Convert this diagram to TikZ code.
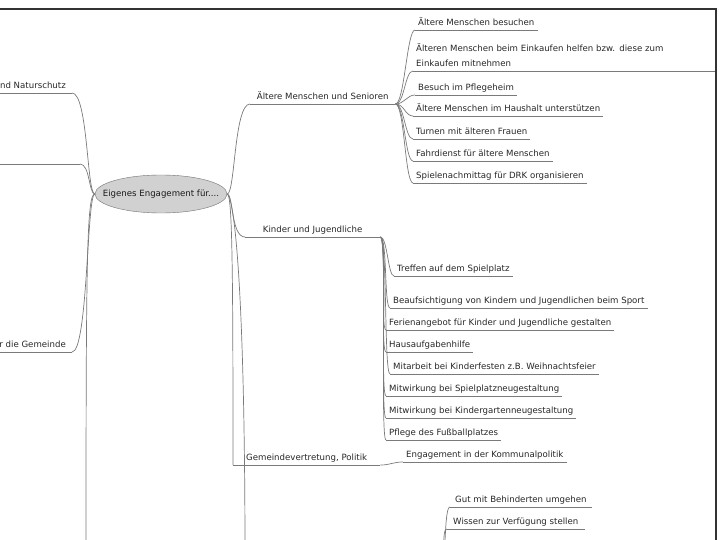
\documentclass[tikz,border=0pt]{standalone}
\usepackage{fontspec}
\setmainfont{DejaVu Sans}
\usetikzlibrary{shapes.geometric}

\newcommand{\mapfont}{\fontsize{8.6}{15}\selectfont}

\tikzset{
  link/.style={draw=black!52, line width=0.7pt},
  uline/.style={draw=black!52, line width=0.7pt},
  topic/.style={anchor=south west, inner xsep=3pt, inner ysep=2.5pt, text depth=2pt,
    text=black!85, font=\mapfont,
    append after command={(\tikzlastnode.south west) edge[uline] (\tikzlastnode.south east)}},
  ltopic/.style={topic, anchor=south east, inner xsep=6pt},
  frame/.style={draw=black!80, line width=1.2pt}
}

\begin{document}
\begin{tikzpicture}[x=1pt, y=-1pt]

    \useasboundingbox (0,0) rectangle (720,540);
    \clip (0,0) rectangle (720,540);

    % Centre
    \node[ellipse, draw=black!55, fill=black!18, minimum width=132pt, minimum height=38pt,
      inner xsep=-12pt, inner ysep=0pt, font=\mapfont, text=black!90] (core) at (161,194)
      {Eigenes Engagement für....};

    % Left side (cut off)
    \node[ltopic] (natur) at (72,93) {nd Naturschutz};
    \node[ltopic] (gemeinde) at (72,352) {r die Gemeinde};
    \coordinate (left2) at (80,164);
    \coordinate (left4) at (86,560);
    \draw[uline] (left2) -- ++(-100,0);

    \draw[link] (natur.south east) .. controls +(16,0) and +(-8,0) .. (core.west);
    \draw[link] (left2) .. controls +(10,0) and +(-6,0) .. (core.west);
    \draw[link] (gemeinde.south east) .. controls +(16,0) and +(-8,0) .. (core.west);
    \draw[link] (core.west) .. controls +(-8,0) and +(0,-300) .. (left4);

    % Main topics right
    \node[topic, minimum width=145pt] (senioren) at (250,104) {Ältere Menschen und Senioren};
    \node[topic, minimum width=135pt] (kinder) at (245,237) {Kinder und Jugendliche};
    \node[topic, minimum width=147pt] (politik) at (233,465) {Gemeindevertretung, Politik};
    \coordinate (behind) at (245,560);

    \draw[link] (core.east) .. controls +(8,0) and +(-16,0) .. (senioren.south west);
    \draw[link] (core.east) .. controls +(6,0) and +(-14,0) .. (kinder.south west);
    \draw[link] (core.east) .. controls +(5,0) and +(0,-200) .. (politik.south west);
    \draw[link] (core.east) .. controls +(5,0) and +(0,-300) .. (behind);

    % Aeltere Menschen
    \node[topic] (sen1) at (415,30) {Ältere Menschen besuchen};
    \node[topic, text width=297pt, align=left, text depth=17pt] (sen2) at (413,71)
      {Älteren Menschen beim Einkaufen helfen bzw. diese zum\\Einkaufen mitnehmen};
    \node[topic] (sen3) at (415,95) {Besuch im Pflegeheim};
    \node[topic] (sen4) at (413,116) {Ältere Menschen im Haushalt unterstützen};
    \node[topic] (sen5) at (413,139) {Turnen mit älteren Frauen};
    \node[topic] (sen6) at (413,161) {Fahrdienst für ältere Menschen};
    \node[topic] (sen7) at (413,183) {Spielenachmittag für DRK organisieren};

    \foreach \i in {1,...,7}
      \draw[link] (senioren.south east) .. controls +(9,0) and +(-8,0) .. (sen\i.south west);

    % Kinder und Jugendliche
    \node[topic] (kid1) at (394,276) {Treffen auf dem Spielplatz};
    \node[topic] (kid2) at (390,308) {Beaufsichtigung von Kindern und Jugendlichen beim Sport};
    \node[topic] (kid3) at (386,330) {Ferienangebot für Kinder und Jugendliche gestalten};
    \node[topic] (kid4) at (386,352) {Hausaufgabenhilfe};
    \node[topic] (kid5) at (390,374) {Mitarbeit bei Kinderfesten z.B. Weihnachtsfeier};
    \node[topic] (kid6) at (386,396) {Mitwirkung bei Spielplatzneugestaltung};
    \node[topic] (kid7) at (386,418) {Mitwirkung bei Kindergartenneugestaltung};
    \node[topic] (kid8) at (386,440) {Pflege des Fußballplatzes};

    \foreach \i in {1,...,8}
      \draw[link] (kinder.south east) .. controls +(7,0) and +(-6,0) .. (kid\i.south west);

    % Politik
    \node[topic] (pol1) at (403,462) {Engagement in der Kommunalpolitik};
    \draw[link] (politik.south east) .. controls +(10,0) and +(-10,0) .. (pol1.south west);

    % Behinderte (parent below the frame)
    \coordinate (behpar) at (441,600);
    \node[topic, inner xsep=5pt] (beh1) at (450,507) {Gut mit Behinderten umgehen};
    \node[topic, inner xsep=6pt] (beh2) at (447,529) {Wissen zur Verfügung stellen};
    \coordinate (beh3) at (448,551);

    \draw[link] (behpar) .. controls +(5,-40) and +(-6,0) .. (beh1.south west);
    \draw[link] (behpar) .. controls +(5,-40) and +(-6,0) .. (beh2.south west);
    \draw[link] (behpar) .. controls +(5,-30) and +(-6,0) .. (beh3);

    % Frame
    \draw[frame] (0,9) -- (716,9) -- (716,540);

\end{tikzpicture}
\end{document}
